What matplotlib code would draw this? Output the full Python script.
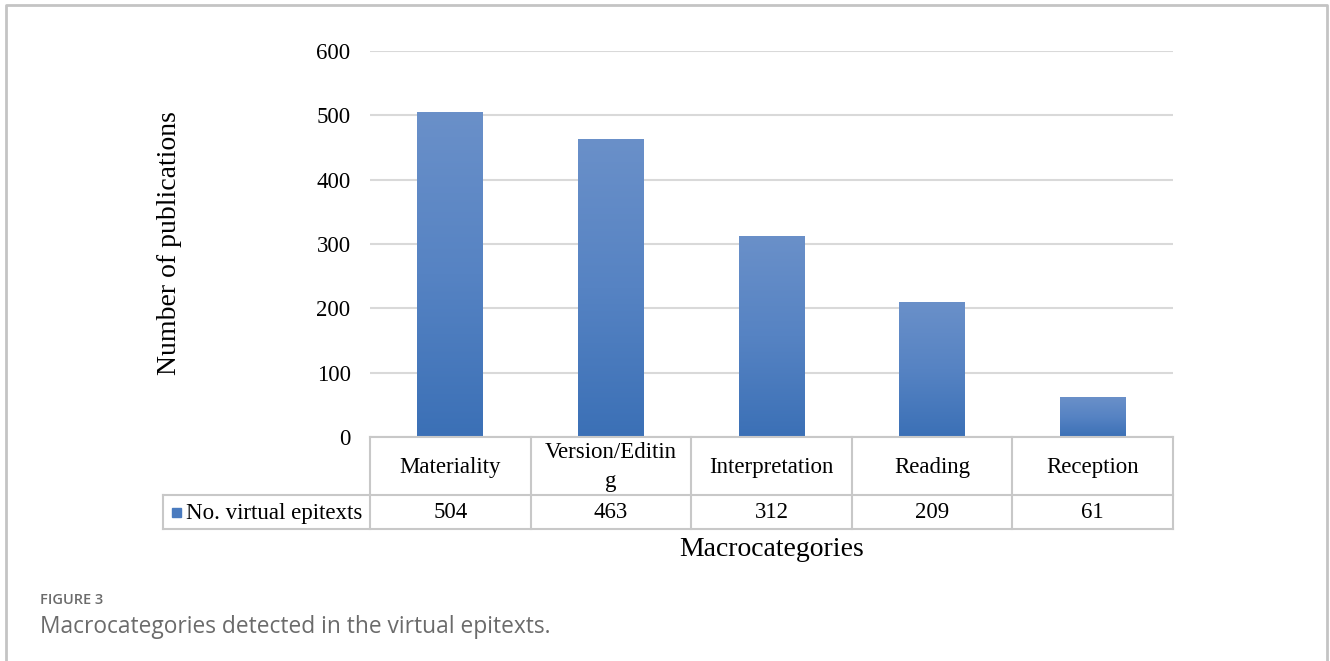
import matplotlib.pyplot as plt
from matplotlib.lines import Line2D
from matplotlib.patches import Rectangle
from matplotlib.colors import LinearSegmentedColormap
import numpy as np

categories = ["Materiality", "Version/Editin\ng", "Interpretation", "Reading", "Reception"]
counts = [504, 463, 312, 209, 61]
series_name = "No. virtual epitexts"
yticks = [0, 100, 200, 300, 400, 500, 600]

W, H = 1330, 661
fig = plt.figure(figsize=(W / 100, H / 100), dpi=100)
plt.rcParams["font.family"] = ["Liberation Serif", "DejaVu Serif"]

def fx(px):
    return px / W

def fy(py):
    return 1 - py / H

# pixel layout
x0, x1 = 370, 1173
ytop, ybot = 51, 437
row1, row2 = 495, 529
leg_left = 163

ax = fig.add_axes([fx(x0), fy(ybot), fx(x1) - fx(x0), fy(ytop) - fy(ybot)])
n = len(categories)
ax.set_yticks(yticks)
ax.set_yticklabels([str(t) for t in yticks], fontsize=16.5)
ax.set_xticks([])
ax.tick_params(axis="y", length=0, pad=14)
for s in ax.spines.values():
    s.set_visible(False)
ax.yaxis.grid(True, color="#d9d9d9", linewidth=1.5)
ax.set_axisbelow(True)

# bars with vertical gradient
bw = 0.41
grad = np.linspace(0, 1, 256).reshape(-1, 1)
cmap = LinearSegmentedColormap.from_list("b", ["#3b70b6", "#5683c3", "#6a90c9"])
for i, v in enumerate(counts):
    ax.imshow(grad, extent=(i - bw / 2, i + bw / 2, 0, v), origin="lower",
              cmap=cmap, aspect="auto", zorder=2)
ax.set_xlim(-0.5, n - 0.5)
ax.set_ylim(0, 600)

fig.text(fx(170), fy(243), "Number of publications", rotation=90,
         ha="center", va="center", fontsize=20)

# table
lc = "#c8c8c8"
lw = 1.5
def hline(y, xa, xb):
    fig.add_artist(Line2D([fx(xa), fx(xb)], [fy(y), fy(y)], color=lc, lw=lw))
def vline(x, ya, yb):
    fig.add_artist(Line2D([fx(x), fx(x)], [fy(ya), fy(yb)], color=lc, lw=lw))

col_w = (x1 - x0) / n
hline(ybot, x0, x1)
hline(row1, leg_left, x1)
hline(row2, leg_left, x1)
vline(leg_left, row1, row2)
for k in range(n + 1):
    vline(x0 + k * col_w, ybot, row2)

for i, (c, v) in enumerate(zip(categories, counts)):
    cx = x0 + (i + 0.5) * col_w
    fig.text(fx(cx), fy((ybot + row1) / 2 + 1), c, ha="center", va="center",
             fontsize=16.5, linespacing=1.45)
    fig.text(fx(cx), fy((row1 + row2) / 2 + 1), str(v), ha="center", va="center",
             fontsize=16.5)

fig.add_artist(Rectangle((fx(172), fy(517)), fx(9), fy(508) - fy(517),
                         color="#4a7bbf", transform=fig.transFigure))
fig.text(fx(186), fy((row1 + row2) / 2 + 1), series_name, ha="left", va="center",
         fontsize=16.5)

fig.text(fx((x0 + x1) / 2), fy(550), "Macrocategories", ha="center", va="center",
         fontsize=20)

# frame and caption
fig.add_artist(Line2D([fx(6), fx(6), fx(1327), fx(1327)],
                      [0, fy(5), fy(5), 0], color="#c4c4c4", lw=2))
fig.text(fx(40), fy(600), "FIGURE 3", ha="left", va="center", fontsize=10.5,
         color="#6b6b6b", family="Open Sans", weight="semibold")
fig.text(fx(40), fy(627), "Macrocategories detected in the virtual epitexts.",
         ha="left", va="center", fontsize=16.4, color="#6b6b6b", family="Open Sans")

fig.savefig("out.png", dpi=100)
